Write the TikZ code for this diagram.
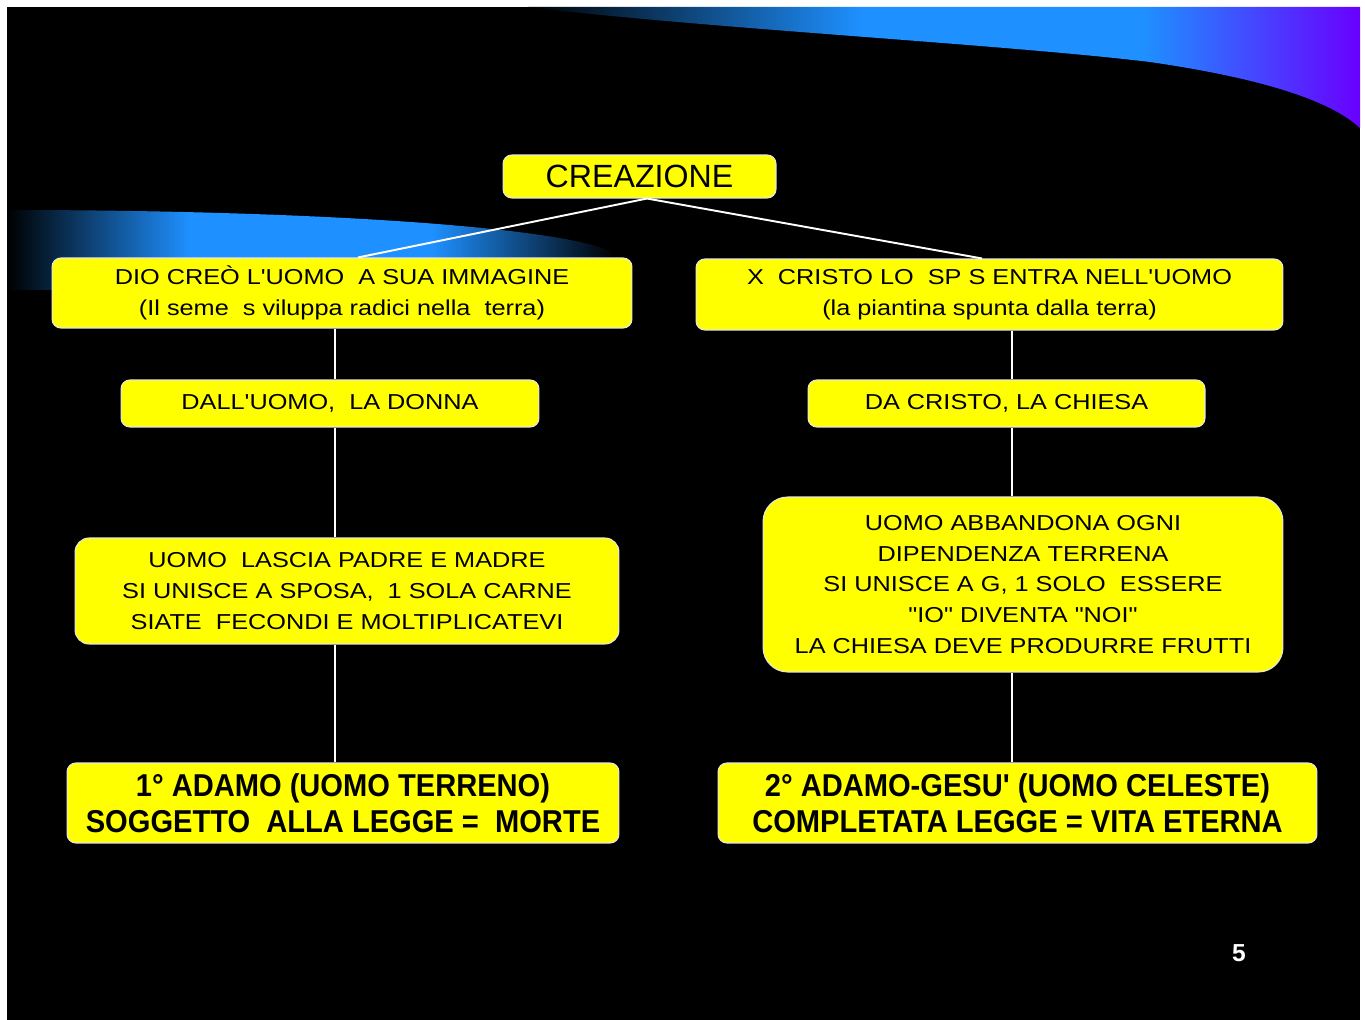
\documentclass[tikz,border=0pt]{standalone}
\usepackage{fontspec}
\setmainfont{Liberation Sans}
\newfontfamily\boxfont[FakeStretch=1.17]{Liberation Sans}
\newfontfamily\adamofont[FakeStretch=0.92]{Liberation Sans}
\usetikzlibrary{calc}
\definecolor{slideyellow}{RGB}{255,255,0}
\definecolor{swblue}{RGB}{30,144,255}
\definecolor{swviolet}{RGB}{105,0,255}
\definecolor{boxedge}{RGB}{230,230,230}
\pgfdeclarehorizontalshading{swooshR}{100bp}{color(0bp)=(black); color(25bp)=(black); color(45bp)=(swblue); color(62bp)=(swblue); color(75bp)=(swviolet); color(100bp)=(swviolet)}
\pgfdeclarehorizontalshading{swooshL}{100bp}{color(0bp)=(black); color(25bp)=(black); color(40bp)=(swblue); color(60bp)=(swblue); color(75bp)=(black); color(100bp)=(black)}

\begin{document}
\begin{tikzpicture}[x=0.02cm, y=-0.02cm,
  box/.style={draw=boxedge, line width=0.6pt, fill=slideyellow, rounded corners=5pt,
    inner sep=0pt, align=center, text=black},
  smalltxt/.style={font=\boxfont\fontsize{12.3}{17.6}\selectfont},
  bigtxt/.style={font=\adamofont\bfseries\fontsize{18}{20.4}\selectfont},
  link/.style={draw=white, line width=1.1pt}]
\useasboundingbox (0,0) rectangle (1365,1020);
%--- sfondo ---
\fill[white] (0,0) rectangle (1365,1020);
\fill[black] (7,7) rectangle (1360,1020);
\shade[shading=swooshR] (528,7) -- (1360,7) -- (1360,128)
  .. controls (1330,100) and (1260,78) .. (1150,62)
  .. controls (1000,44) and (700,28) .. (528,7) -- cycle;
\shade[shading=swooshL] (7,210) .. controls (300,210) and (560,226) .. (612,252)
  -- (614,290) -- (7,290) -- cycle;

%--- radice ---
\node[box, font=\fontsize{18.3}{22}\selectfont, minimum width=5.46cm, minimum height=0.86cm]
  (crea) at (639.5,176.5) {CREAZIONE};

%--- ramo sinistro: uomo ---
\node[box, smalltxt, minimum width=11.6cm, minimum height=1.4cm] (dio) at (342,293)
  {DIO CREÒ L'UOMO~ A SUA IMMAGINE\\(Il seme~ s viluppa radici nella~ terra)};
\node[box, smalltxt, minimum width=8.36cm, minimum height=0.94cm] (donna) at (330,403.5)
  {DALL'UOMO,~ LA DONNA};
\node[box, smalltxt, rounded corners=8pt, minimum width=10.88cm, minimum height=2.12cm]
  (lascia) at (347,591)
  {UOMO~ LASCIA PADRE E MADRE\\SI UNISCE A SPOSA,~ 1 SOLA CARNE\\SIATE~ FECONDI E MOLTIPLICATEVI};
\node[box, bigtxt, minimum width=11.04cm, minimum height=1.6cm] (adamo1) at (343,803)
  {1° ADAMO (UOMO TERRENO)\\SOGGETTO~ ALLA LEGGE =~ MORTE};

%--- ramo destro: Cristo ---
\node[box, smalltxt, minimum width=11.74cm, minimum height=1.42cm] (xcristo) at (989.5,294.5)
  {X~ CRISTO LO~ SP S ENTRA NELL'UOMO\\(la piantina spunta dalla terra)};
\node[box, smalltxt, minimum width=7.94cm, minimum height=0.94cm] (chiesa) at (1006.5,403.5)
  {DA CRISTO, LA CHIESA};
\node[box, smalltxt, rounded corners=14pt, minimum width=10.4cm, minimum height=3.5cm]
  (abbandona) at (1023,584.5)
  {UOMO ABBANDONA OGNI\\DIPENDENZA TERRENA\\SI UNISCE A G, 1 SOLO~ ESSERE\\"IO" DIVENTA "NOI"\\LA CHIESA DEVE PRODURRE FRUTTI};
\node[box, bigtxt, minimum width=11.98cm, minimum height=1.6cm] (adamo2) at (1017.5,803)
  {2° ADAMO-GESU' (UOMO CELESTE)\\COMPLETATA LEGGE = VITA ETERNA};

% numero pagina
\node[text=white, font=\bfseries\fontsize{14}{16}\selectfont] (pag) at (1239,953) {5};

%--- collegamenti ---
\coordinate (lx) at (335,0);
\coordinate (rx) at (1012,0);
\draw[link] ([xshift=0.15cm]crea.south) -- ([xshift=0.32cm]dio.north);
\draw[link] ([xshift=0.15cm]crea.south) -- ([xshift=-0.15cm]xcristo.north);
\draw[link] (dio.south -| lx) -- (donna.north -| lx);
\draw[link] (donna.south -| lx) -- (lascia.north -| lx);
\draw[link] (lascia.south -| lx) -- (adamo1.north -| lx);
\draw[link] (xcristo.south -| rx) -- (chiesa.north -| rx);
\draw[link] (chiesa.south -| rx) -- (abbandona.north -| rx);
\draw[link] (abbandona.south -| rx) -- (adamo2.north -| rx);
\end{tikzpicture}
\end{document}
